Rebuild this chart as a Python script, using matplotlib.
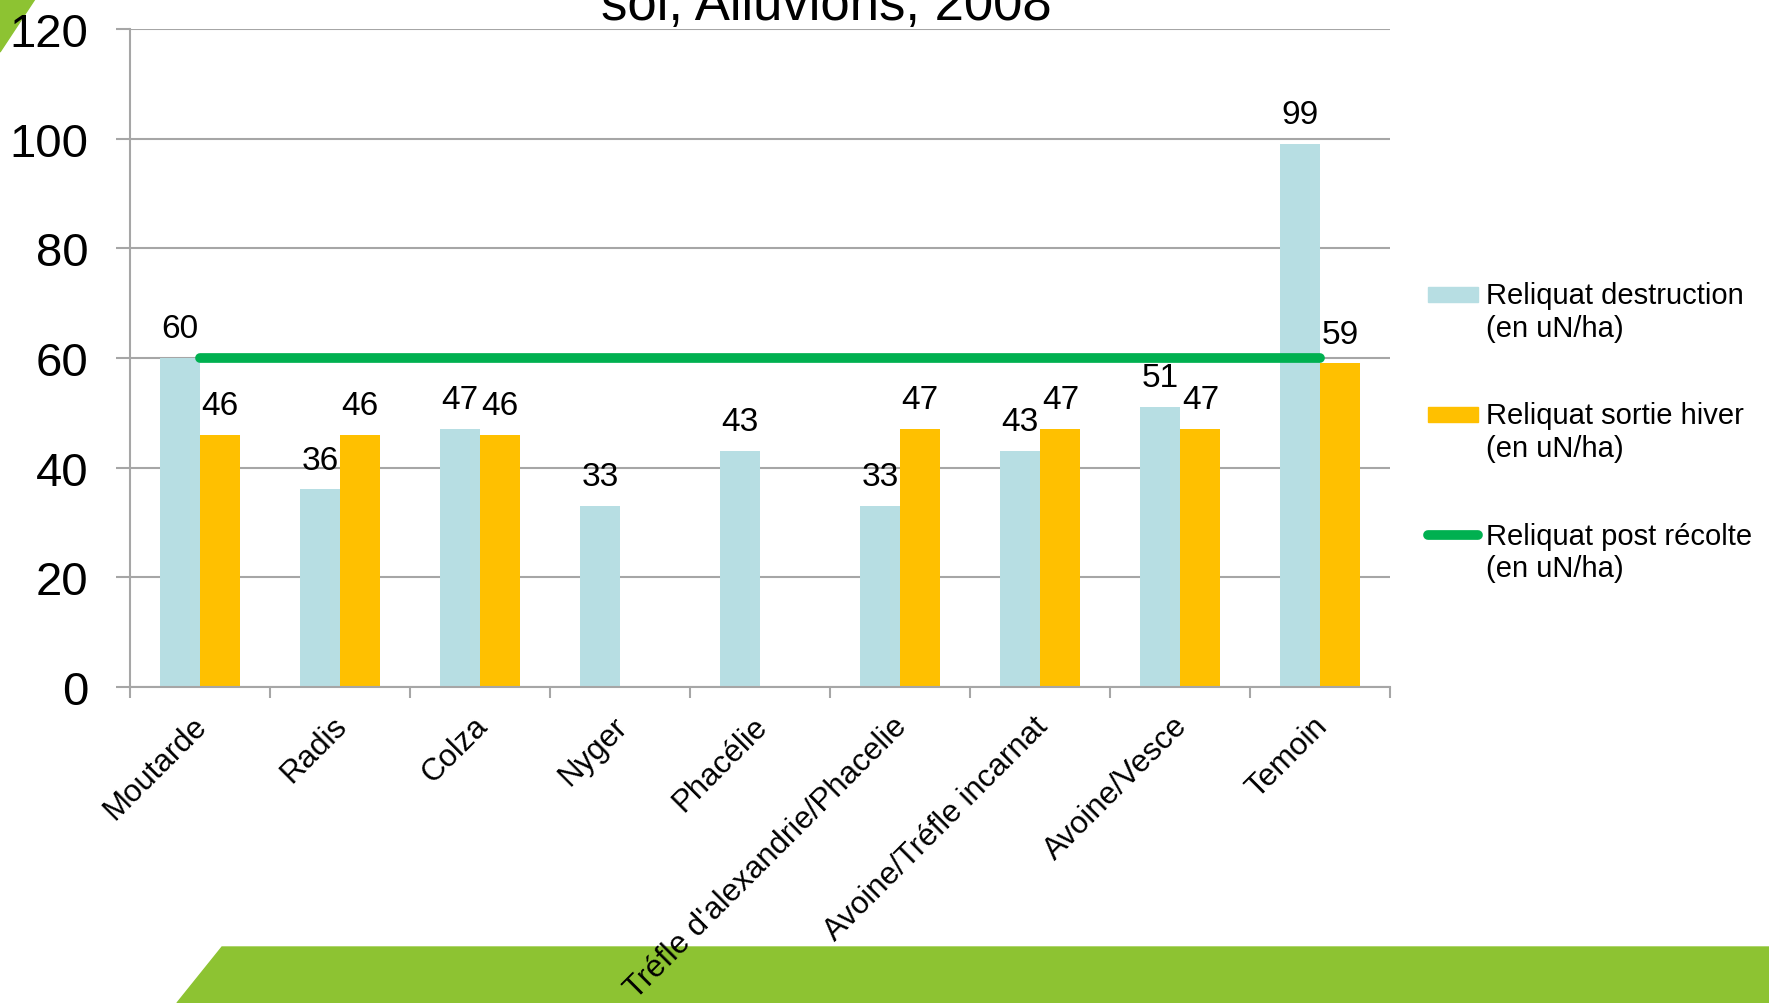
import numpy as np
import matplotlib
matplotlib.use("Agg")
import matplotlib.pyplot as plt
from matplotlib.patches import Polygon, Patch, Rectangle
from matplotlib.lines import Line2D
from matplotlib.legend_handler import HandlerPatch, HandlerLine2D
from matplotlib.transforms import ScaledTranslation

plt.rcParams['font.family'] = ['Liberation Sans', 'DejaVu Sans']

categories = ['Moutarde', 'Radis', 'Colza', 'Nyger', 'Phacélie',
              "Tréfle d'alexandrie/Phacelie", 'Avoine/Tréfle incarnat',
              'Avoine/Vesce', 'Temoin']
destruction = [60, 36, 47, 33, 43, 33, 43, 51, 99]
sortie_hiver = [46, 46, 46, np.nan, np.nan, 47, 47, 47, 59]
post_recolte = [60, 60, 60, 60, 60, 60, 60, 60, 60]

labels = ['Reliquat destruction\n(en uN/ha)',
          'Reliquat sortie hiver\n(en uN/ha)',
          'Reliquat post récolte\n(en uN/ha)']

c_blue = '#B7DEE3'
c_orange = '#FFC000'
c_green = '#00B050'
c_grid = '#A6A6A6'

fig = plt.figure(figsize=(17.69, 10.04), dpi=100)
ax = fig.add_axes([0.0735, 0.315, 0.7125, 0.655])

x = np.arange(len(categories))
w = 0.286
ax.bar(x - w / 2, destruction, w, color=c_blue, zorder=2)
ax.bar(x + w / 2, sortie_hiver, w, color=c_orange, zorder=2)
ax.plot(x, post_recolte, color=c_green, lw=7, solid_capstyle='round', zorder=3)

for xi, v in zip(x, destruction):
    ax.annotate(f'{v:g}', (xi - w / 2, v), xytext=(0, 15), textcoords='offset points',
                ha='center', va='baseline', fontsize=24)
for xi, v in zip(x, sortie_hiver):
    if not np.isnan(v):
        ax.annotate(f'{v:g}', (xi + w / 2, v), xytext=(0, 15), textcoords='offset points',
                    ha='center', va='baseline', fontsize=24)

ax.set_xlim(-0.5, len(categories) - 0.5)
ax.set_ylim(0, 120)
ax.set_yticks(np.arange(0, 121, 20))
ax.yaxis.grid(True, color=c_grid, lw=1.5)
ax.set_axisbelow(True)
for s in ['top', 'right']:
    ax.spines[s].set_visible(False)
for s in ['left', 'bottom']:
    ax.spines[s].set_color(c_grid)
    ax.spines[s].set_linewidth(1.5)
ax.tick_params(axis='y', length=10, width=1.5, color=c_grid, pad=20, labelsize=34)

ax.set_xticks(x)
ax.set_xticks(np.arange(-0.5, len(categories)), minor=True)
ax.tick_params(axis='x', which='major', length=0, pad=17, labelsize=22.5)
ax.tick_params(axis='x', which='minor', length=8, width=1.5, color=c_grid)
ax.set_xticklabels(categories, rotation=45, ha='right', va='top', rotation_mode='anchor')
off = ScaledTranslation(-8 / 100, 0, fig.dpi_scale_trans)
for t in ax.get_xticklabels():
    t.set_transform(t.get_transform() + off)


# legend handles sit on the first line of each two-line label
def patch_func(legend, orig_handle, xdescent, ydescent, width, height, fontsize):
    return Rectangle((-xdescent, 0.7 * fontsize), width, 0.52 * fontsize)


class HandlerLineUp(HandlerLine2D):
    def create_artists(self, legend, orig_handle, xdescent, ydescent, width, height, fontsize, trans):
        arts = super().create_artists(legend, orig_handle, xdescent, ydescent, width, height, fontsize, trans)
        for a in arts:
            if hasattr(a, 'set_ydata'):
                a.set_ydata(np.asarray(a.get_ydata()) + 0.6 * fontsize)
        return arts


handles = [Patch(color=c_blue), Patch(color=c_orange),
           Line2D([], [], color=c_green, lw=7, solid_capstyle='round')]
ax.legend(handles, labels, loc='upper left', bbox_to_anchor=(0.807, 0.719),
          bbox_transform=fig.transFigure, frameon=False, fontsize=21,
          borderpad=0, borderaxespad=0, handlelength=1.72, handletextpad=0.28,
          labelspacing=2.05,
          handler_map={Patch: HandlerPatch(patch_func=patch_func), Line2D: HandlerLineUp()})

# title line, partly cut off at the top like in the source slide
fig.text(826 / 1769, 1 - 20 / 1004, 'sol, Alluvions, 2008', ha='center', va='baseline', fontsize=38)

# decoration: green corner and bottom band
fig.patches.append(Polygon([(0, 1), (35 / 1769, 1), (0, 1 - 53 / 1004)], closed=True,
                           transform=fig.transFigure, color='#8DC332', zorder=-1))
fig.patches.append(Polygon([(177 / 1769, 0), (222 / 1769, 56 / 1004), (1, 56 / 1004), (1, 0)],
                           closed=True, transform=fig.transFigure, color='#8DC332', zorder=-1))

fig.savefig('out.png', dpi=100)
